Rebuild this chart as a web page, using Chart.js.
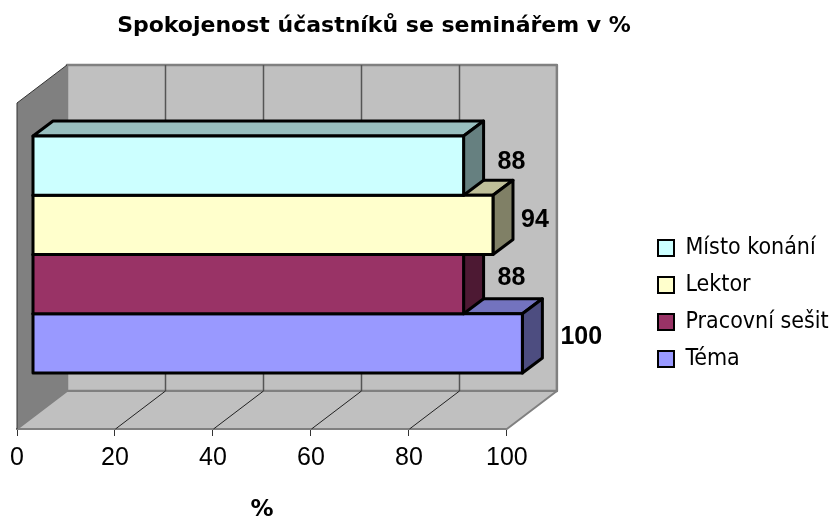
<!DOCTYPE html>
<html>
<head>
<meta charset="utf-8">
<style>
    body { margin: 0; background: #fff; }
</style>
<script src="https://cdn.jsdelivr.net/npm/chart.js@4"></script>
</head>
<body>
<canvas id="graf" width="836" height="519"></canvas>
<script>
// ── Data ─────────────
const categories = [''];
const seriesNames = ['Místo konání', 'Lektor', 'Pracovní sešit', 'Téma'];
const seriesValues = [88, 94, 88, 100];
const axisTicks = [0, 20, 40, 60, 80, 100];

// ── Barvy ─────────────
const frontColors = ['#CCFFFF', '#FFFFCC', '#993366', '#9999FF'];
const topColors = ['#99BFBF', '#BFBF99', '#73264D', '#7373BF'];
const sideColors = ['#668080', '#808066', '#4D1933', '#4D4D80'];

// posun predni steny sloupcu a hloubka grafu
const barShift = { x: 15.5, y: -11.5 };
const barDepth = { x: 20, y: -15 };
const wallDepth = { x: 50, y: -38 };
const labelShift = [34, 28, 34, 38];
const labelLift = [-4, -5, -6, -6];

function polygon(ctx, pts, fill, stroke, width) {
    ctx.beginPath();
    pts.forEach((p, i) => (i ? ctx.lineTo(p[0], p[1]) : ctx.moveTo(p[0], p[1])));
    ctx.closePath();
    if (fill) {
        ctx.fillStyle = fill;
        ctx.fill();
    }
    if (stroke) {
        ctx.strokeStyle = stroke;
        ctx.lineWidth = width;
        ctx.lineJoin = 'round';
        ctx.stroke();
    }
}

const walls3d = {
    id: 'walls3d',
    beforeDatasetsDraw(chart) {
        const { ctx, chartArea: a, scales: { x } } = chart;
        const dx = wallDepth.x, dy = wallDepth.y;
        ctx.save();
        polygon(ctx, [[a.left + dx, a.top + dy], [a.right + dx, a.top + dy], [a.right + dx, a.bottom + dy], [a.left + dx, a.bottom + dy]], '#C0C0C0', '#808080', 2.5);
        polygon(ctx, [[a.left, a.bottom], [a.left + dx, a.bottom + dy], [a.right + dx, a.bottom + dy], [a.right, a.bottom]], '#C0C0C0', '#808080', 2);
        polygon(ctx, [[a.left, a.top], [a.left + dx, a.top + dy], [a.left + dx, a.bottom + dy], [a.left, a.bottom]], '#808080');
        ctx.strokeStyle = '#333';
        ctx.lineWidth = 1;
        ctx.beginPath();
        ctx.moveTo(a.left + dx, a.top + dy);
        ctx.lineTo(a.left, a.top);
        ctx.lineTo(a.left, a.bottom);
        ctx.stroke();
        axisTicks.slice(1, -1).forEach((t) => {
            const px = Math.round(x.getPixelForValue(t)) + 0.5;
            ctx.beginPath();
            ctx.strokeStyle = '#555';
            ctx.lineWidth = 1.5;
            ctx.moveTo(px + dx, a.top + dy);
            ctx.lineTo(px + dx, a.bottom + dy);
            ctx.stroke();
            ctx.beginPath();
            ctx.strokeStyle = '#222';
            ctx.lineWidth = 1;
            ctx.moveTo(px, a.bottom);
            ctx.lineTo(px + dx, a.bottom + dy);
            ctx.stroke();
        });
        ctx.restore();
    }
};

const bars3d = {
    id: 'bars3d',
    beforeDatasetDraw(chart, args) {
        const ctx = chart.ctx;
        const el = args.meta.data[0];
        const i = args.index;
        const left = el.base, right = el.x;
        const top = el.y - el.height / 2, bottom = el.y + el.height / 2;
        const dx = barDepth.x, dy = barDepth.y;
        ctx.save();
        ctx.translate(barShift.x, barShift.y);
        polygon(ctx, [[left, top], [left + dx, top + dy], [right + dx, top + dy], [right, top]], topColors[i], '#000', 3);
        polygon(ctx, [[right, top], [right + dx, top + dy], [right + dx, bottom + dy], [right, bottom]], sideColors[i], '#000', 3);
    },
    afterDatasetDraw(chart, args) {
        const ctx = chart.ctx;
        const el = args.meta.data[0];
        // obrys prede steny, vycentrovany na hranu sloupce
        ctx.strokeStyle = '#000';
        ctx.lineWidth = 3;
        ctx.strokeRect(el.base, el.y - el.height / 2, el.x - el.base, el.height);
        ctx.restore();
    },
    afterDatasetsDraw(chart) {
        const ctx = chart.ctx;
        ctx.save();
        ctx.fillStyle = '#000';
        ctx.font = 'bold 25px "Liberation Sans"';
        ctx.textAlign = 'left';
        ctx.textBaseline = 'middle';
        chart.data.datasets.forEach((ds, i) => {
            const el = chart.getDatasetMeta(i).data[0];
            ctx.fillText(ds.data[0], el.x + barShift.x + labelShift[i], el.y + barShift.y + labelLift[i]);
        });
        ctx.restore();
    }
};

// legenda a nadpis nejsou vystredene podle celeho platna
const placeBoxes = {
    id: 'placeBoxes',
    afterLayout(chart) {
        chart.legend.left = 658 - 14;
        chart.legend.right = 836;
        chart.legend.top = 222.5;
        chart.legend.bottom = 519;
        chart.titleBlock.left = 0;
        chart.titleBlock.right = 748;
    }
};

new Chart(document.getElementById('graf'), {
    type: 'bar',
    plugins: [walls3d, bars3d, placeBoxes],
    data: {
        labels: categories,
        datasets: seriesNames.map((name, i) => ({
            label: name,
            data: [seriesValues[i]],
            backgroundColor: frontColors[i],
            borderColor: '#000',
            borderWidth: 0,
            clip: false,
            categoryPercentage: 0.727,
            barPercentage: 1
        }))
    },
    options: {
        indexAxis: 'y',
        responsive: false,
        animation: false,
        events: [],
        layout: { padding: { left: 17, right: 134.5, top: 0, bottom: 0 } },
        scales: {
            x: {
                min: 0,
                max: 100,
                afterBuildTicks(axis) {
                    axis.ticks = axisTicks.map((v) => ({ value: v }));
                },
                grid: { drawOnChartArea: false, tickLength: 7, tickColor: '#333', tickWidth: 1 },
                border: { color: '#666', width: 2 },
                ticks: {
                    color: '#000',
                    padding: 7,
                    maxRotation: 0,
                    font: { family: '"Liberation Sans"', size: 25 }
                },
                title: {
                    display: true,
                    text: '%',
                    color: '#000',
                    padding: { top: 20.6, bottom: 0 },
                    font: { family: '"DejaVu Sans"', size: 23, weight: 'bold', lineHeight: 0.8 }
                }
            },
            y: { display: false }
        },
        plugins: {
            tooltip: { enabled: false },
            title: {
                display: true,
                text: 'Spokojenost účastníků se seminářem v %',
                color: '#000',
                padding: { top: 12.8, bottom: 63.8 },
                font: { family: '"DejaVu Sans"', size: 22, weight: 'bold', lineHeight: 1.2 }
            },
            legend: {
                position: 'right',
                align: 'start',
                labels: {
                    color: '#000',
                    boxWidth: 16,
                    boxHeight: 16,
                    padding: 14,
                    font: { family: '"DejaVu Sans Condensed", "DejaVu Sans"', size: 23 },
                    generateLabels(chart) {
                        return Chart.defaults.plugins.legend.labels.generateLabels(chart).map((item) => ({ ...item, lineWidth: 2 }));
                    }
                }
            }
        }
    }
});
</script>
</body>
</html>
